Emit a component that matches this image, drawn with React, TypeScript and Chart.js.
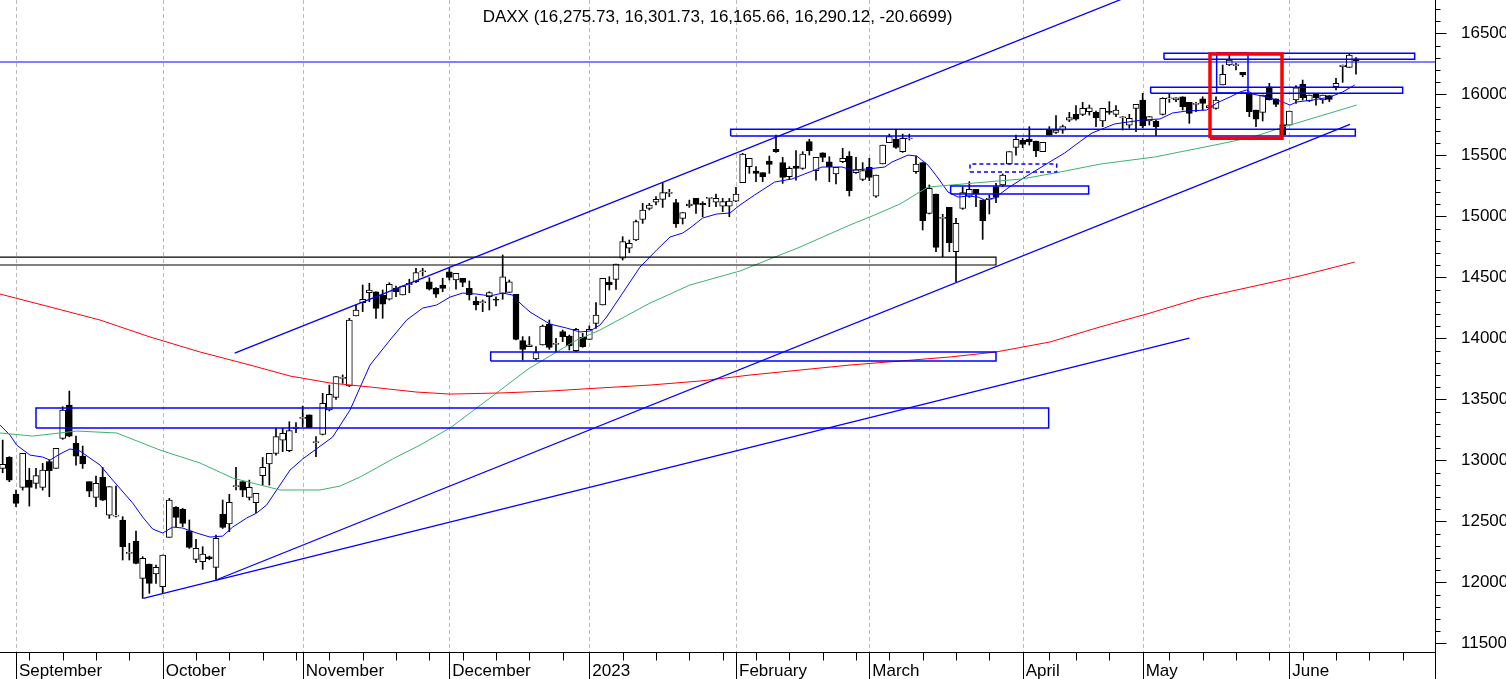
import { useEffect, useRef } from 'react';
import { Chart, registerables } from 'chart.js';
import type { Plugin } from 'chart.js';

Chart.register(...registerables);

const FONT = "Arial, 'Liberation Sans', sans-serif";
const TITLE = 'DAXX (16,275.73, 16,301.73, 16,165.66, 16,290.12, -20.6699)';

// trading-day index of the first candle (0 = 1 September 2022)
const FIRST_INDEX = -2;

const opens = [
  12934, 13024, 12724, 12778, 12838, 12811, 12778, 12989, 12934, 13180, 13453, 13139,
  13035, 12825, 12696, 12860, 12551, 12543, 12511, 12237, 12338, 12032, 12150, 12068,
  11964, 12368, 12614, 12598, 12423, 12188, 12169, 12210, 12122, 12560, 12478, 12784,
  12825, 12696, 12653, 12874, 12970, 13057, 13166, 13079, 13262, 13344, 13372, 13145,
  13213, 13413, 13516, 13672, 13609, 14183, 14292, 14374, 14382, 14355, 14320, 14410,
  14355, 14440, 14465, 14546, 14464, 14410, 14437, 14546, 14478, 14492, 14410, 14306,
  14292, 14341, 14320, 14369, 14377, 14361, 13981, 13932, 13831, 13945, 14117, 13951,
  14055, 14019, 13899, 14008, 13992, 14123, 14273, 14459, 14483, 14656, 14738, 14806,
  14975, 15065, 15115, 15139, 15188, 15112, 14983, 15085, 15147, 15106, 15147, 15115,
  15084, 15084, 15125, 15276, 15407, 15371, 15358, 15453, 15549, 15440, 15325, 15412,
  15393, 15612, 15374, 15521, 15447, 15347, 15448, 15494, 15358, 15303, 15401, 15166,
  15429, 15604, 15634, 15530, 15634, 15366, 15440, 15024, 15183, 14983, 15073, 14710,
  15065, 15166, 15221, 15134, 15139, 15243, 15257, 15429, 15565, 15625, 15633, 15617,
  15530, 15707, 15688, 15707, 15789, 15836, 15836, 15858, 15852, 15781, 15863, 15836,
  15808, 15748, 15885, 15953, 15781, 15781, 15836, 15962, 15953, 15980, 15934, 15918,
  15962, 15890, 15885, 16076, 16240, 16235, 16180, 16008, 15871, 15852, 16062, 15962,
  15752, 15748, 15953, 16082, 15945, 15999, 15953, 15989, 16063, 16226, 16221, 16275.73,
];

const highs = [
  13166, 13030, 12756, 13057, 12934, 12934, 12975, 13002, 13098, 13439, 13568, 13199,
  13117, 12825, 12871, 12942, 12784, 12789, 12538, 12320, 12420, 12210, 12150, 12142,
  12224, 12688, 12620, 12606, 12511, 12352, 12292, 12215, 12388, 12675, 12721, 12942,
  12825, 12838, 12729, 13024, 13057, 13262, 13262, 13316, 13309, 13445, 13372, 13194,
  13549, 13617, 13686, 13700, 14164, 14273, 14437, 14451, 14382, 14396, 14456, 14429,
  14429, 14484, 14574, 14574, 14497, 14415, 14492, 14574, 14533, 14492, 14470, 14341,
  14314, 14382, 14341, 14683, 14478, 14361, 14014, 14014, 13932, 14109, 14150, 14000,
  14068, 14027, 14082, 14041, 14101, 14292, 14492, 14505, 14609, 14833, 14806, 14970,
  15106, 15106, 15161, 15276, 15221, 15139, 15030, 15133, 15147, 15120, 15147, 15183,
  15147, 15147, 15237, 15516, 15475, 15407, 15358, 15494, 15666, 15483, 15407, 15538,
  15530, 15631, 15483, 15521, 15489, 15401, 15557, 15530, 15483, 15440, 15475, 15338,
  15584, 15674, 15707, 15674, 15674, 15494, 15440, 15257, 15183, 15016, 15073, 14983,
  15243, 15284, 15221, 15134, 15175, 15270, 15347, 15530, 15666, 15639, 15735, 15617,
  15606, 15735, 15825, 15748, 15852, 15907, 15934, 15912, 15863, 15885, 15940, 15907,
  15817, 15836, 15918, 16008, 15817, 15789, 15972, 16008, 15972, 15980, 15934, 15934,
  15980, 15912, 15980, 16240, 16322, 16254, 16180, 16008, 15871, 15994, 16090, 15962,
  15760, 15863, 16071, 16117, 15994, 15999, 15994, 15989, 16131, 16240, 16336, 16301.73,
];

const lows = [
  12898, 12825, 12620, 12756, 12625, 12770, 12756, 12702, 12934, 13172, 13193, 12961,
  12934, 12702, 12620, 12670, 12524, 12537, 12183, 12183, 12150, 11869, 11910, 11991,
  11910, 12368, 12456, 12456, 12278, 12161, 12106, 12185, 12024, 12442, 12415, 12757,
  12702, 12675, 12571, 12797, 12797, 13043, 13071, 13071, 13227, 13276, 13268, 13030,
  13208, 13405, 13500, 13631, 13604, 14183, 14219, 14300, 14164, 14164, 14314, 14341,
  14355, 14374, 14456, 14511, 14396, 14336, 14382, 14478, 14402, 14423, 14314, 14232,
  14219, 14232, 14265, 14320, 14377, 13986, 13822, 13932, 13822, 13945, 13910, 13891,
  13973, 13904, 13891, 13926, 13992, 14082, 14273, 14396, 14401, 14642, 14702, 14800,
  14942, 15052, 15093, 15073, 15161, 14910, 14937, 15073, 15024, 14997, 15079, 15079,
  15038, 14997, 15120, 15276, 15352, 15284, 15284, 15352, 15524, 15270, 15303, 15297,
  15385, 15502, 15297, 15447, 15284, 15265, 15440, 15166, 15352, 15292, 15292, 15155,
  15429, 15604, 15557, 15524, 15625, 15352, 14888, 15019, 14710, 14669, 14710, 14464,
  15057, 15155, 15079, 14811, 15019, 15112, 15243, 15429, 15502, 15563, 15584, 15489,
  15530, 15666, 15680, 15680, 15776, 15789, 15825, 15830, 15735, 15735, 15836, 15817,
  15707, 15721, 15694, 15725, 15748, 15661, 15830, 15934, 15940, 15871, 15762, 15858,
  15871, 15885, 15879, 16076, 16235, 16199, 16144, 15817, 15735, 15781, 15953, 15899,
  15652, 15748, 15926, 15953, 15940, 15912, 15926, 15940, 16035, 16098, 16221, 16165.66,
];

const closes = [
  12967, 12838, 12647, 13057, 12778, 12874, 12920, 12915, 13098, 13412, 13199, 13035,
  12970, 12748, 12811, 12674, 12784, 12545, 12292, 12240, 12155, 12196, 11991, 12122,
  12224, 12674, 12532, 12483, 12287, 12278, 12232, 12194, 12360, 12450, 12655, 12790,
  12756, 12778, 12729, 12942, 13057, 13194, 13221, 13243, 13272, 13350, 13268, 13151,
  13467, 13541, 13686, 13678, 14150, 14232, 14320, 14396, 14246, 14279, 14443, 14382,
  14429, 14450, 14538, 14552, 14402, 14361, 14410, 14500, 14533, 14459, 14355, 14273,
  14298, 14374, 14312, 14505, 14464, 13992, 13910, 13946, 13883, 14101, 13926, 13957,
  14014, 13937, 14074, 13932, 14074, 14191, 14492, 14440, 14609, 14792, 14778, 14956,
  15052, 15093, 15139, 15194, 15194, 14937, 15030, 15101, 15098, 15093, 15150, 15147,
  15120, 15125, 15183, 15511, 15475, 15352, 15325, 15426, 15530, 15319, 15393, 15393,
  15511, 15538, 15483, 15483, 15407, 15401, 15475, 15210, 15380, 15374, 15319, 15338,
  15584, 15653, 15565, 15639, 15640, 15429, 14964, 15229, 14746, 14990, 14784, 14942,
  15194, 15221, 15183, 14964, 15145, 15155, 15338, 15530, 15631, 15590, 15612, 15535,
  15606, 15666, 15707, 15735, 15809, 15797, 15885, 15890, 15808, 15885, 15852, 15871,
  15814, 15803, 15918, 15740, 15817, 15735, 15967, 15968, 15972, 15899, 15844, 15924,
  15926, 15907, 15953, 16164, 16281, 16241, 16158, 15858, 15797, 15994, 15953, 15918,
  15668, 15863, 16054, 15972, 15994, 15972, 15994, 15959, 16090, 16240, 16322, 16290.12,
];

// moving averages as [trading-day index, value]
const shortMa: [number, number][] = [
  [-2.4, 13289], [-0.9, 13207], [0.1, 13125], [2.1, 13043], [4, 13027], [5.1, 13002], [6.6, 13052],
  [8.1, 13093], [9.6, 13076], [12.6, 12961], [14.5, 12838], [17.5, 12650], [19, 12535], [20.5, 12437],
  [22, 12404], [23.5, 12453], [25, 12445], [27.1, 12404], [29.1, 12371], [31, 12379], [32.5, 12453],
  [34.6, 12527], [36.1, 12568], [37.6, 12634], [39.1, 12757], [41.1, 12920], [43, 13011], [47.5, 13191],
  [50.1, 13412], [53.1, 13781], [56.1, 13986], [58.6, 14150], [61, 14248], [63.1, 14273], [65.1, 14338],
  [67, 14371], [69.1, 14363], [71.1, 14347], [73, 14371], [74.5, 14355], [75.6, 14289], [77.1, 14216],
  [78.6, 14166], [80.1, 14117], [82.6, 14084], [84.6, 14052], [86.1, 14060], [87.6, 14109], [88.6, 14175],
  [91, 14371], [93.6, 14584], [96.1, 14724], [98.1, 14830], [100, 14863], [101.1, 14904], [103, 14986],
  [105.1, 15019], [107.1, 15027], [108.6, 15093], [110.8, 15175], [113.8, 15281], [116.4, 15306],
  [118.3, 15347], [119.8, 15379], [120.9, 15404], [123.9, 15404], [125.4, 15379], [127.8, 15388],
  [130.3, 15404], [131.4, 15445], [133.8, 15502], [135.1, 15494], [136.8, 15420], [138.3, 15314],
  [139.8, 15199], [141.3, 15158], [142.8, 15166], [144.3, 15158], [145.3, 15134], [146.8, 15150],
  [148.8, 15232], [150.9, 15306], [154.3, 15420], [157.3, 15519], [159.9, 15625], [161.4, 15683],
  [163.3, 15724], [164.8, 15757], [166.8, 15773], [168.9, 15789], [171.6, 15798], [173.5, 15847],
  [175.6, 15863], [178.6, 15871], [180.1, 15929], [182.1, 15978], [183.6, 16019], [184.6, 16035],
  [185.5, 16002], [187.6, 15978], [189.6, 15945], [191.1, 15912], [192.1, 15937], [194.5, 15953],
  [197.1, 15978], [199, 16019], [200.8, 16076],
];

const midMa: [number, number][] = [
  [-2.4, 13224], [2.5, 13199], [9.1, 13240], [15.1, 13224], [21.6, 13084], [27.6, 12978], [32.5, 12855],
  [39.6, 12757], [45.6, 12757], [48.6, 12789], [51.6, 12863], [56.5, 13011], [60.6, 13125], [65.1, 13265],
  [71.1, 13511], [76.8, 13748], [84.1, 13986], [87.6, 14068], [95.1, 14289], [101.1, 14437], [108.6, 14552],
  [117.6, 14748], [125.1, 14929], [128.8, 15011], [132.6, 15101], [136.8, 15240], [143.8, 15273],
  [150.9, 15306], [156.6, 15363], [162.7, 15429], [170.8, 15486], [180.6, 15593], [185.5, 15650],
  [191.1, 15748], [201.1, 15912],
];

const longMa: [number, number][] = [
  [-2.4, 14363], [5.1, 14257], [12.6, 14150], [20.1, 14011], [27.6, 13888], [35.1, 13781], [41.1, 13691],
  [47.1, 13634], [53.1, 13601], [60, 13560], [65.1, 13543], [72.6, 13552], [80.1, 13568], [87.6, 13593],
  [95.1, 13617], [102.6, 13650], [110.1, 13699], [117.6, 13740], [125.1, 13781], [132.6, 13814],
  [140.1, 13847], [147, 13888], [155.1, 13970], [162.6, 14093], [170.1, 14207], [177.6, 14330],
  [185.1, 14420], [192.6, 14511], [200.8, 14625],
];

// drawn annotations, in [index, price]
const trendLines: [number, number][][] = [
  [[32.8, 13879], [166, 16783]],
  [[30, 12019], [200.1, 15754]],
  [[19.1, 11869], [176, 14002]],
];
const levelLines = [16265];

// [fromIndex, toIndex, lowPrice, highPrice]
const blueBoxes: number[][] = [
  [172.2, 209.8, 16287, 16336],
  [170.2, 208.0, 16008, 16057],
  [107.2, 200.9, 15658, 15713],
  [140.2, 160.9, 15183, 15248],
  [71.2, 147.0, 13814, 13888],
  [3.0, 154.9, 13265, 13429],
  [180.1, 184.8, 16011, 16339],
];
const dashedBoxes: number[][] = [[143.1, 156.1, 15363, 15429]];
const blackBoxes: number[][] = [[-3, 147.0, 14601, 14666]];
const redBoxes: number[][] = [[179.1, 189.9, 15639, 16330]];

const monthStarts = [0, 22, 43, 65, 86, 108, 128, 151, 169, 191];
const monthLabels = ['September', 'October', 'November', 'December', '2023', 'February', 'March', 'April', 'May', 'June'];
const weekStarts = [
  2, 7, 12, 17, 27, 32, 37, 42, 47, 52, 57, 62, 67, 72, 77, 82, 91, 96, 101, 106,
  111, 116, 121, 126, 131, 136, 141, 146, 155, 159, 164, 173, 178, 183, 188, 193, 198, 203, 208,
];
const priceLabels = [11500, 12000, 12500, 13000, 13500, 14000, 14500, 15000, 15500, 16000, 16500];
const MINOR_STEP = 100;

const X_MIN = -2.4;
const X_MAX = 212.85;
const Y_MIN = 11429;
const Y_MAX = 16773;

const framePlugin: Plugin<'bar'> = {
  id: 'daxFrame',
  beforeDatasetsDraw(chart) {
    const { ctx, chartArea } = chart;
    const x = chart.scales.x;
    ctx.save();
    ctx.strokeStyle = '#b9b9b9';
    ctx.lineWidth = 1;
    ctx.setLineDash([4, 3]);
    monthStarts.forEach((m) => {
      const px = Math.round(x.getPixelForValue(m)) + 0.5;
      ctx.beginPath();
      ctx.moveTo(px, chartArea.top);
      ctx.lineTo(px, chartArea.bottom);
      ctx.stroke();
    });
    ctx.restore();
  },
  afterDraw(chart) {
    const { ctx, chartArea, height } = chart;
    const x = chart.scales.x;
    const y = chart.scales.y;
    const bottom = Math.round(chartArea.bottom) + 0.5;
    const right = Math.round(chartArea.right) + 0.5;
    ctx.save();
    ctx.strokeStyle = '#000';
    ctx.lineWidth = 1;
    ctx.beginPath();
    ctx.moveTo(chartArea.left, bottom);
    ctx.lineTo(right, bottom);
    ctx.moveTo(right, chartArea.top);
    ctx.lineTo(right, height);
    monthStarts.forEach((m) => {
      const px = Math.round(x.getPixelForValue(m)) + 0.5;
      ctx.moveTo(px, bottom);
      ctx.lineTo(px, height);
    });
    weekStarts.forEach((w) => {
      const px = Math.round(x.getPixelForValue(w)) + 0.5;
      if (px > right) return;
      ctx.moveTo(px, bottom);
      ctx.lineTo(px, bottom + 8);
    });
    for (let v = priceLabels[0]; v <= Y_MAX; v += MINOR_STEP) {
      const py = Math.round(y.getPixelForValue(v)) + 0.5;
      const len = priceLabels.includes(v) ? 11 : 5;
      ctx.moveTo(right, py);
      ctx.lineTo(right + len, py);
    }
    ctx.stroke();
    ctx.restore();
  },
};

const boxPoints = ([x1, x2, lo, hi]: number[]) => [
  { x: x1, y: lo }, { x: x2, y: lo }, { x: x2, y: hi }, { x: x1, y: hi }, { x: x1, y: lo },
];

const lineSet = (data: { x: number; y: number }[], color: string, width: number, order: number, dash: number[] = []) => ({
  type: 'line' as const,
  data,
  borderColor: color,
  borderWidth: width,
  borderDash: dash,
  pointRadius: 0,
  fill: false,
  tension: 0,
  order,
});

export default function App() {
  const canvasRef = useRef<HTMLCanvasElement | null>(null);

  useEffect(() => {
    if (!canvasRef.current) return;
    const ctx = canvasRef.current.getContext('2d');
    if (!ctx) return;

    const candles = opens.map((o, i) => ({
      x: FIRST_INDEX + i,
      o,
      h: highs[i],
      l: lows[i],
      c: closes[i],
    }));

    const pairs = (arr: [number, number][]) => arr.map(([x, y]) => ({ x, y }));

    const datasets: any[] = [
      // wicks
      {
        type: 'bar',
        data: candles.map((k) => ({ x: k.x, y: [k.l, k.h] })),
        backgroundColor: '#000',
        borderWidth: 0,
        barThickness: 1,
        grouped: false,
        order: 5,
      },
      // bodies
      {
        type: 'bar',
        data: candles.map((k) => ({ x: k.x, y: [k.o, k.c] })),
        backgroundColor: candles.map((k) => (k.c >= k.o ? '#ffffff' : '#000000')),
        borderColor: '#000',
        borderWidth: 1,
        borderSkipped: false,
        barThickness: 6,
        minBarLength: 1,
        grouped: false,
        order: 4,
      },
      lineSet(pairs(longMa), '#ff0000', 1, 3),
      lineSet(pairs(midMa), '#3cb371', 1, 3),
      lineSet(pairs(shortMa), '#0000ff', 1, 3),
      ...trendLines.map((t) => lineSet(pairs(t), '#0000ff', 1.3, 1)),
      ...levelLines.map((v) => lineSet([{ x: X_MIN - 1, y: v }, { x: X_MAX + 1, y: v }], '#0000ff', 1.2, 1)),
      ...blueBoxes.map((b) => lineSet(boxPoints(b), '#0000ff', 1.5, 1)),
      ...dashedBoxes.map((b) => lineSet(boxPoints(b), '#0000ff', 1.5, 1, [4, 3])),
      ...blackBoxes.map((b) => lineSet(boxPoints(b), '#000000', 1.2, 1)),
      ...redBoxes.map((b) => lineSet(boxPoints(b), '#ff0000', 3.5, 0)),
    ];

    const chart = new Chart(ctx, {
      type: 'bar',
      data: { datasets },
      options: {
        animation: false,
        responsive: false,
        maintainAspectRatio: false,
        layout: { padding: 0 },
        plugins: {
          legend: { display: false },
          tooltip: { enabled: false },
          title: { display: false },
        },
        scales: {
          x: {
            type: 'linear',
            position: 'bottom',
            min: X_MIN,
            max: X_MAX,
            offset: false,
            grid: { display: false },
            border: { display: false },
            afterBuildTicks: (scale: any) => {
              scale.ticks = monthStarts.map((value) => ({ value }));
            },
            afterFit: (scale: any) => {
              scale.height = 27;
              scale.paddingLeft = 0;
              scale.paddingRight = 0;
            },
            ticks: {
              autoSkip: false,
              maxRotation: 0,
              align: 'start',
              labelOffset: 3,
              padding: 1,
              color: '#000',
              font: { family: FONT, size: 17 },
              callback: (_v: any, i: number) => monthLabels[i],
            },
          },
          y: {
            type: 'linear',
            position: 'right',
            min: Y_MIN,
            max: Y_MAX,
            grid: { display: false },
            border: { display: false },
            afterBuildTicks: (scale: any) => {
              scale.ticks = priceLabels.map((value) => ({ value }));
            },
            afterFit: (scale: any) => {
              scale.width = 71;
              scale.paddingTop = 0;
              scale.paddingBottom = 0;
            },
            ticks: {
              autoSkip: false,
              padding: 18,
              color: '#000',
              font: { family: FONT, size: 17 },
              callback: (v: any) => String(v),
            },
          },
        },
      } as any,
      plugins: [framePlugin],
    });

    return () => {
      chart.destroy();
    };
  }, []);

  return (
    <div style={{ position: 'absolute', left: 0, top: 0, width: 1506, height: 679, background: '#fff' }}>
      <canvas ref={canvasRef} width={1506} height={679} style={{ display: 'block' }} />
      <div
        style={{
          position: 'absolute',
          left: 0,
          top: 7,
          width: 1435,
          textAlign: 'center',
          fontFamily: FONT,
          fontSize: 17,
          lineHeight: '20px',
          color: '#000',
          pointerEvents: 'none',
        }}
      >
        {TITLE}
      </div>
    </div>
  );
}
